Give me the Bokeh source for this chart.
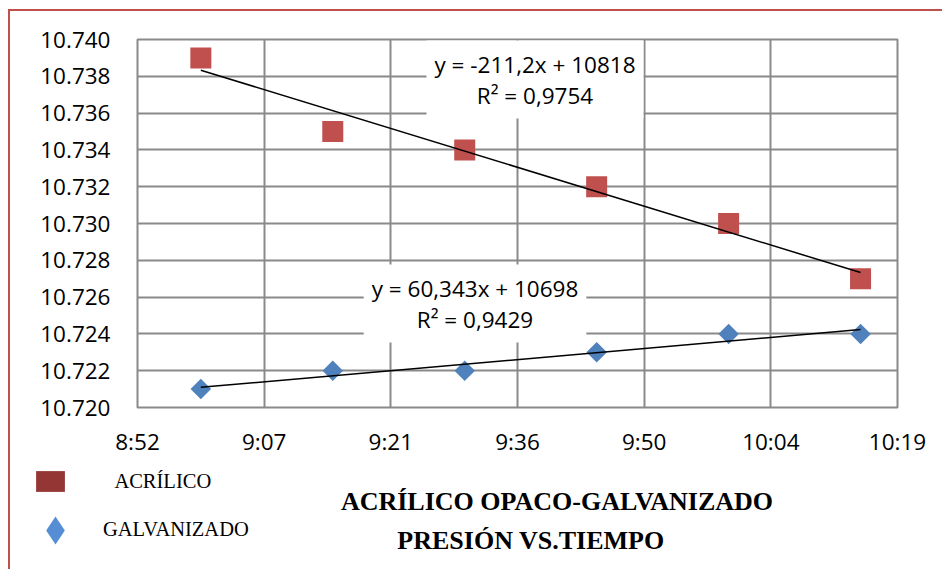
import numpy as np
from bokeh.plotting import figure
from bokeh.models import (FixedTicker, Label, Legend, LegendItem, Range1d,
                          NumeralTickFormatter)
from bokeh.core.properties import value
from bokeh.embed import file_html
from bokeh.resources import INLINE

# ---------------- data ----------------
times = ["9:00", "9:15", "9:30", "9:45", "10:00", "10:15"]
acrilico = [10.739, 10.735, 10.734, 10.732, 10.730, 10.727]
galvanizado = [10.721, 10.722, 10.722, 10.723, 10.724, 10.724]

x_ticks = [0.37, 0.38, 0.39, 0.40, 0.41, 0.42, 0.43]          # fraction of a day
x_tick_labels = ["8:52", "9:07", "9:21", "9:36", "9:50", "10:04", "10:19"]
y_ticks = [10.720, 10.722, 10.724, 10.726, 10.728, 10.730,
           10.732, 10.734, 10.736, 10.738, 10.740]

series_names = ["ACRÍLICO", "GALVANIZADO"]
eq_acrilico = "y = -211,2x + 10818\nR² = 0,9754"
eq_galvanizado = "y = 60,343x + 10698\nR² = 0,9429"
title_lines = ["ACRÍLICO OPACO-GALVANIZADO", "PRESIÓN VS.TIEMPO"]


def to_day(t):
    h, m = t.split(":")
    return (int(h) * 60 + int(m)) / 1440.0


x = [to_day(t) for t in times]

# ---------------- styling ----------------
RED = "#C0504D"
BLUE = "#4F81BD"
GRID = "#8a8a8a"
SANS = "Open Sans"
SERIF = "Liberation Serif"
W = 934

# ---------------- main chart ----------------
p = figure(width=W, height=450, output_backend="svg", toolbar_location=None,
           x_range=Range1d(0.37, 0.43), y_range=Range1d(10.720, 10.740),
           min_border_left=127, min_border_right=47, min_border_top=28,
           min_border_bottom=54,
           background_fill_color="white", border_fill_color="white",
           styles={"margin-left": "8px", "margin-top": "9px",
                   "border-left": "2px solid #C0504D",
                   "border-top": "2px solid #C0504D"})

p.outline_line_color = GRID
p.outline_line_width = 2

for ax in (p.xaxis[0], p.yaxis[0]):
    ax.axis_line_color = None
    ax.major_tick_line_color = None
    ax.minor_tick_line_color = None
    ax.major_label_text_font = SANS
    ax.major_label_text_font_size = "22.5px"
    ax.major_label_text_color = "black"

p.xaxis.ticker = FixedTicker(ticks=x_ticks)
p.xaxis.major_label_overrides = dict(zip(x_ticks, x_tick_labels))
p.xaxis.major_label_standoff = 12
p.yaxis.ticker = FixedTicker(ticks=y_ticks)
p.yaxis.formatter = NumeralTickFormatter(format="0.000")
p.yaxis.major_label_standoff = 21

p.xgrid.grid_line_color = GRID
p.ygrid.grid_line_color = GRID
p.xgrid.grid_line_width = 2
p.ygrid.grid_line_width = 2

# markers
p.scatter(x, acrilico, marker="square", size=21, fill_color=RED, line_color=None)
p.scatter(x, galvanizado, marker="square", angle=np.pi / 4, size=14.5,
          fill_color=BLUE, line_color=None)

# linear trend lines
for ys in (acrilico, galvanizado):
    m, b = np.polyfit(x, ys, 1)
    xs = [x[0], x[-1]]
    p.line(xs, [m * v + b for v in xs], line_color="black", line_width=1.5)

# equation labels
for txt, lx, ly in ((eq_acrilico, 0.401382, 10.737826),
                    (eq_galvanizado, 0.396645, 10.725652)):
    p.add_layout(Label(x=lx, y=ly, text=txt, text_align="center",
                       text_baseline="middle", text_font=SANS,
                       text_font_size="22.5px", text_line_height=1.0,
                       text_color="black",
                       background_fill_color="white", padding=8))

# ---------------- legend + title strip ----------------
H2 = 110
p2 = figure(width=W, height=H2, output_backend="svg", toolbar_location=None,
            x_range=Range1d(0, W), y_range=Range1d(0, H2),
            x_axis_type=None, y_axis_type=None, min_border=0,
            background_fill_color="white", border_fill_color="white",
            styles={"margin-left": "8px",
                    "border-left": "2px solid #C0504D"})
p2.outline_line_color = None
p2.xgrid.visible = False
p2.ygrid.visible = False

nan = [float("nan")]
rA = p2.rect(x=nan, y=nan, width=1, height=1, fill_color="#943634", line_color=None)
rB = p2.scatter(x=nan, y=nan, marker="diamond", size=10,
                fill_color="#558ED5", line_color=None)

legA = Legend(items=[LegendItem(label=value(series_names[0]), renderers=[rA])],
              location=(22.4, 75), glyph_width=36, glyph_height=26,
              label_standoff=46, label_text_font=SERIF,
              label_text_font_size="20.5px", label_text_color="black",
              padding=0, margin=0, border_line_color=None,
              background_fill_alpha=0)
legB = Legend(items=[LegendItem(label=value(series_names[1]), renderers=[rB])],
              location=(10, 4.5), glyph_width=70, glyph_height=70,
              label_standoff=13, label_text_font=SERIF,
              label_text_font_size="20.5px", label_text_color="black",
              padding=0, margin=0, border_line_color=None,
              background_fill_alpha=0)
p2.add_layout(legA)
p2.add_layout(legB)

for txt, tx, ty in ((title_lines[0], 546.5, 68), (title_lines[1], 520.5, 29)):
    p2.add_layout(Label(x=tx, y=ty, x_units="screen", y_units="screen", text=txt,
                        text_align="center", text_baseline="alphabetic",
                        text_font=SERIF, text_font_style="bold",
                        text_font_size="26px", text_color="black"))

open("out.html", "w").write(file_html([p, p2], INLINE))
